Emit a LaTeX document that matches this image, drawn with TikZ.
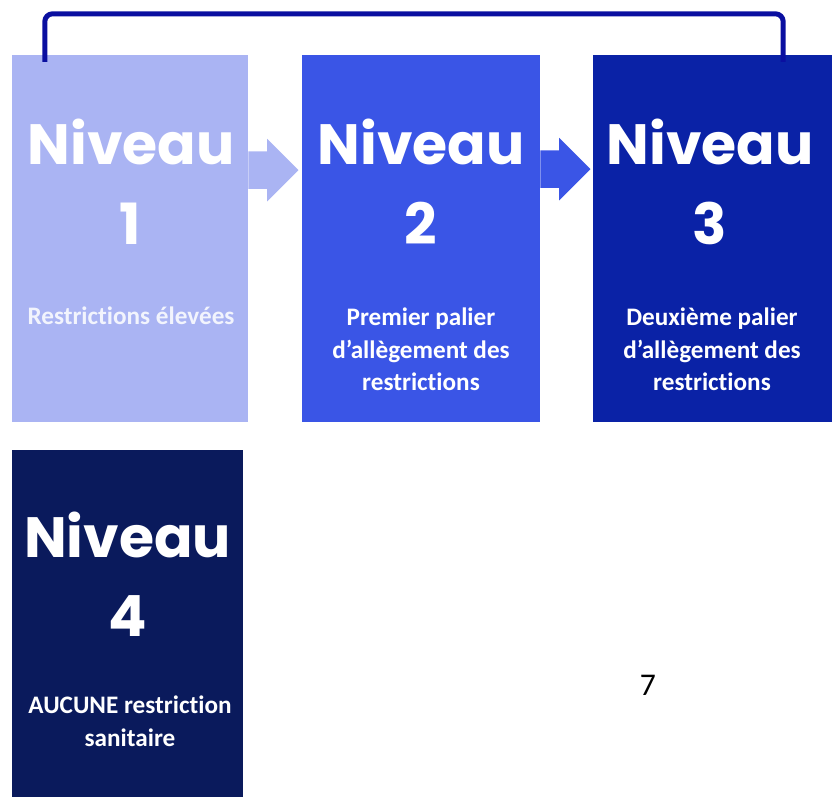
\documentclass[tikz,border=0pt]{standalone}
\usepackage{fontspec}
\setmainfont{Carlito}[Ligatures=NoCommon]
\newfontfamily\titlefont{Poppins}
\usetikzlibrary{shapes.arrows}
\definecolor{niv1}{HTML}{AAB4F3}
\definecolor{niv2}{HTML}{3A55E6}
\definecolor{niv3}{HTML}{0A22A6}
\definecolor{niv4}{HTML}{0A1A5C}
\definecolor{accolade}{HTML}{0A0FA0}
\tikzset{
  box/.style    = {draw=none, inner sep=0pt},
  titre/.style  = {text=white, inner sep=0pt, anchor=base,
                   font=\titlefont\bfseries\fontsize{48.5}{50}\selectfont},
  soustitre/.style = {text=white, inner sep=0pt, anchor=base, align=center,
                   font=\bfseries\fontsize{21.5}{28}\selectfont},
  fleche/.style = {single arrow, draw=none, inner xsep=0pt, inner ysep=0.555cm,
                   single arrow head extend=0.375cm,
                   single arrow head indent=0pt,
                   minimum height=1.5cm, anchor=tail}
}

\begin{document}
\begin{tikzpicture}[x=0.03cm, y=-0.03cm]
  \useasboundingbox (0,0) rectangle (838,797);
  % les niveaux
  \node[box, fill=niv1, minimum width=7.08cm, minimum height=11.01cm] (b1) at (130,238.5) {};
  \node[box, fill=niv2, minimum width=7.14cm, minimum height=11.01cm] (b2) at (421,238.5) {};
  \node[box, fill=niv3, minimum width=7.17cm, minimum height=11.01cm] (b3) at (712.5,238.5) {};
  \node[box, fill=niv4, minimum width=6.93cm, minimum height=10.41cm] (b4) at (127.5,623.5) {};
  % fleches
  \node[fleche, fill=niv1] (a12) at ([yshift=2.05cm]b1.east) {};
  \node[fleche, fill=niv2] (a23) at ([yshift=2.08cm]b2.east) {};
  % textes
  \node[titre] (t1) at (131,165) {Niveau};
  \node[titre] (n1) at (130,245) {1};
  \node[soustitre, text=white!85!niv1] (s1) at (131,325) {Restrictions élevées};
  \node[titre] (t2) at (421,165) {Niveau};
  \node[titre] (n2) at (421,245) {2};
  \node[soustitre] (s2) at (421,391) {Premier palier\\d'allègement des\\restrictions};
  \node[titre] (t3) at (710,165) {Niveau};
  \node[titre] (n3) at (710,245) {3};
  \node[soustitre] (s3) at (712,391) {Deuxième palier\\d'allègement des\\restrictions};
  \node[titre] (t4) at (127.5,557) {Niveau};
  \node[titre] (n4) at (127.5,636) {4};
  \node[soustitre] (s4) at (130,746) {AUCUNE restriction\\sanitaire};
  \node[inner sep=0pt, anchor=base, font=\fontsize{27}{30}\selectfont] (page) at (648,695) {7};
  % accolade
  \draw[accolade, line width=0.15cm, rounded corners=0.24cm]
    ([xshift=0.99cm, yshift=-0.21cm]b1.north west) -- ++(0,-48) -| ([xshift=-1.47cm, yshift=-0.21cm]b3.north east);
\end{tikzpicture}
\end{document}
